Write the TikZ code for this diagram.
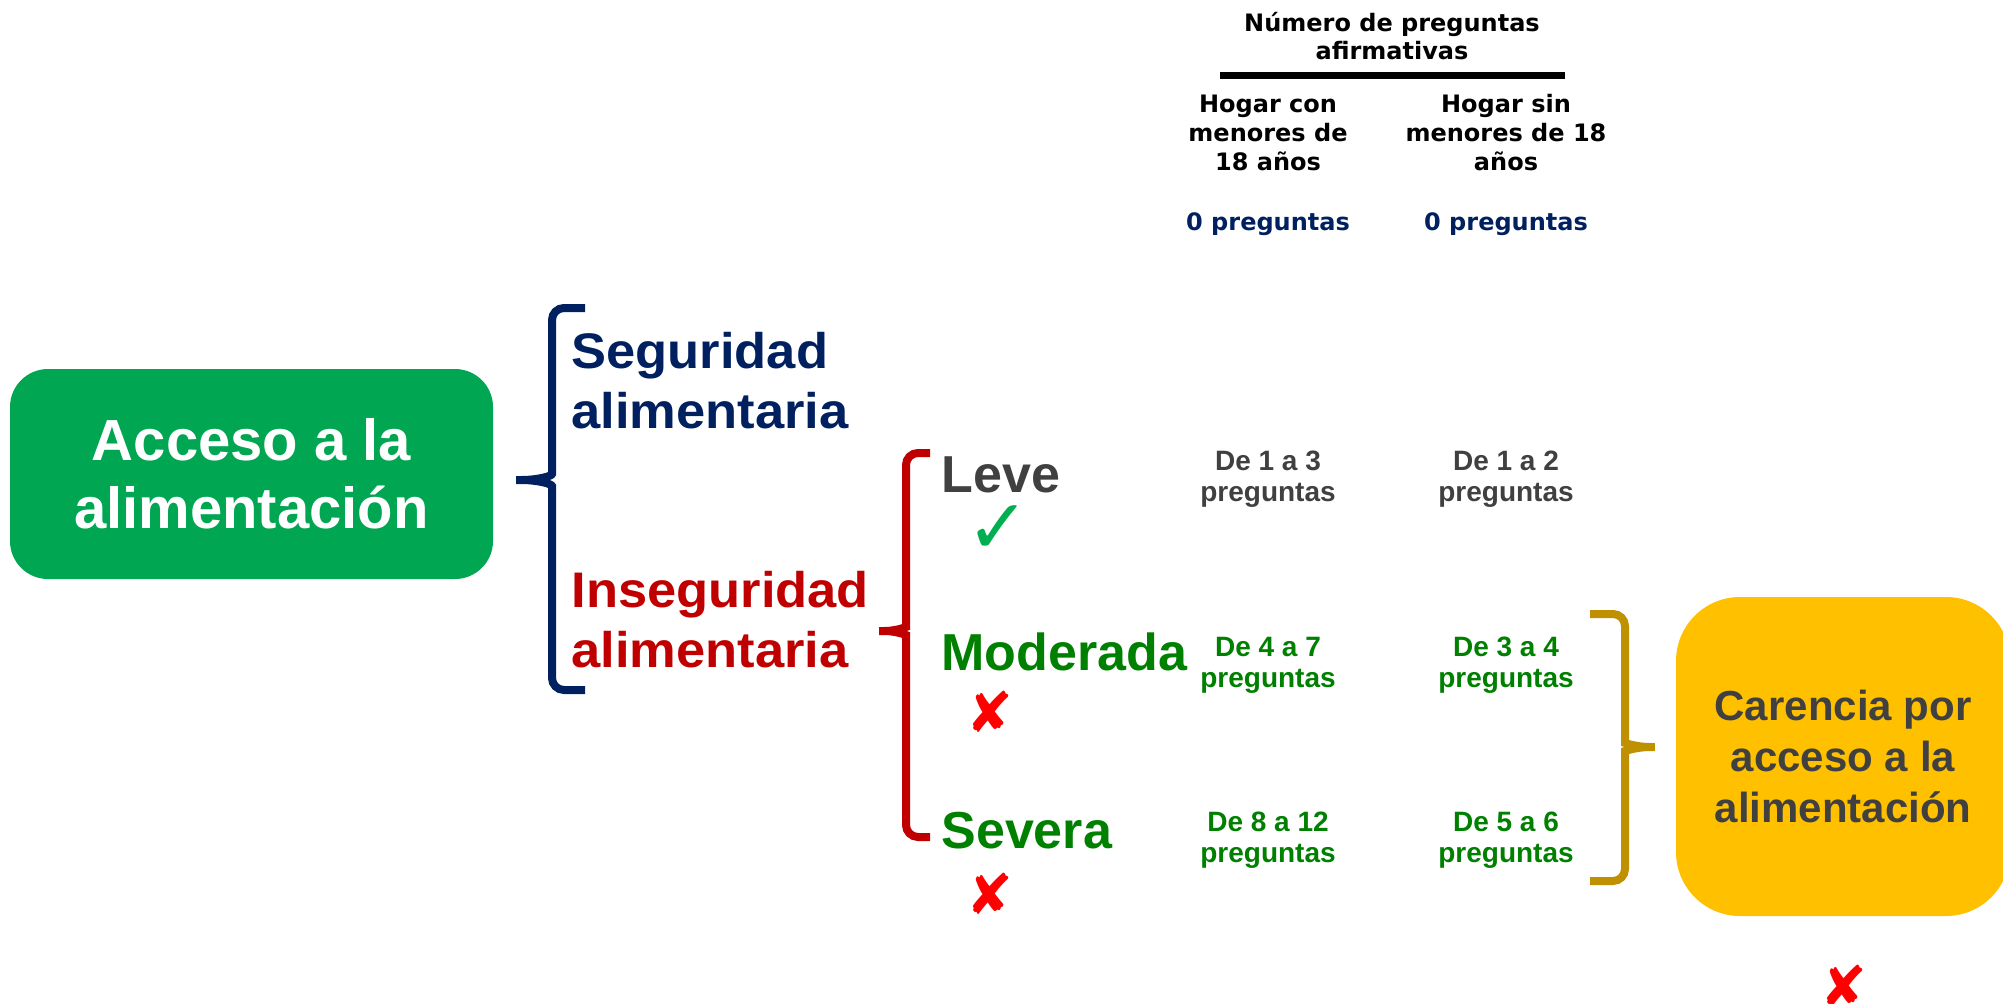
\documentclass[tikz,border=0pt]{standalone}
\usepackage{fontspec}
\setmainfont{Liberation Sans}
\newfontfamily\widefont[FakeStretch=1.05]{Liberation Sans}
\newfontfamily\hdrfont{DejaVu Sans}
\newfontfamily\symfont{DejaVu Sans}
\definecolor{navyblue}{HTML}{002060}
\definecolor{darkred}{HTML}{C00000}
\definecolor{txtgreen}{HTML}{008000}
\definecolor{txtgray}{HTML}{404040}
\definecolor{boxgreen}{HTML}{00A651}
\definecolor{chkgreen}{HTML}{00B050}
\definecolor{boxyellow}{HTML}{FFC000}
\definecolor{gold}{HTML}{BF9000}
\begin{document}
\begin{tikzpicture}[x=0.5pt, y=-0.5pt]
  \tikzstyle{mainbox} = [rounded corners=19pt, inner sep=0pt, align=center, font=\fontsize{29}{34}\selectfont\bfseries]
  \tikzstyle{level} = [anchor=base west, inner sep=0pt, align=left, font=\widefont\fontsize{25}{30}\selectfont\bfseries]
  \tikzstyle{grade} = [anchor=base west, inner sep=0pt, font=\fontsize{26}{30}\selectfont\bfseries]
  \tikzstyle{count} = [anchor=base, inner sep=0pt, align=center, font=\fontsize{14}{15.5}\selectfont\bfseries]
  \tikzstyle{head} = [anchor=base, inner sep=0pt, align=center, font=\hdrfont\fontsize{12}{14.5}\selectfont\bfseries]
  \tikzstyle{symmark} = [inner sep=0pt, font=\symfont\fontsize{28}{28}\selectfont]
  \tikzstyle{brace} = [line width=4pt, rounded corners=6pt]
  \useasboundingbox (0,0) rectangle (2003,1003);
  \clip (0,0) rectangle (2003,1003);
  % main boxes
  \node[mainbox, fill=boxgreen, text=white, minimum width=241.5pt, minimum height=105pt] (acceso) at (251.5, 474) {Acceso a la\\alimentación};
  \node[mainbox, rounded corners=32pt, fill=boxyellow, text=txtgray, minimum width=167pt, minimum height=159.5pt, font=\fontsize{21}{25.5}\selectfont\bfseries] (carencia) at (1843, 756.5) {Carencia por\\acceso a la\\alimentación};
  % first level (base = last line)
  \node[level, text=navyblue] (seg) at (571, 428) {Seguridad\\alimentaria};
  \node[level, text=darkred] (inseg) at (571, 667) {Inseguridad\\alimentaria};
  \node[grade, text=txtgray] (leve) at (941, 492) {Leve};
  \node[grade, text=txtgreen] (moder) at (941, 670) {Moderada};
  \node[grade, text=txtgreen] (sev) at (941, 848) {Severa};
  % marks
  \node[symmark, text=chkgreen, font=\symfont\fontsize{38}{38}\selectfont] (chkleve) at (998, 530) {✓};
  \node[symmark, text=red] (xmoder) at (990, 712) {✘};
  \node[symmark, text=red] (xsev) at (990, 894) {✘};
  \node[symmark, text=red] (xcar) at (1844, 986) {✘};
  % header
  \node[head, font=\hdrfont\fontsize{12}{14}\selectfont\bfseries] (hdr) at (1392, 59) {Número de preguntas\\afirmativas};
  \draw[line width=3.5pt] (1220, 75) -- (1565, 75);
  \node[head] (hcon) at (1268, 170) {Hogar con\\menores de\\18 años};
  \node[head] (hsin) at (1506, 170) {Hogar sin\\menores de 18\\años};
  \node[head, text=navyblue] (zcon) at (1268, 230) {0 preguntas};
  \node[head, text=navyblue] (zsin) at (1506, 230) {0 preguntas};
  % counts
  \node[count, text=txtgray] (lcon) at (1268, 501) {De 1 a 3\\preguntas};
  \node[count, text=txtgray] (lsin) at (1506, 501) {De 1 a 2\\preguntas};
  \node[count, text=txtgreen] (mcon) at (1268, 687) {De 4 a 7\\preguntas};
  \node[count, text=txtgreen] (msin) at (1506, 687) {De 3 a 4\\preguntas};
  \node[count, text=txtgreen] (scon) at (1268, 862) {De 8 a 12\\preguntas};
  \node[count, text=txtgreen] (ssin) at (1506, 862) {De 5 a 6\\preguntas};
  % braces
  \draw[brace, navyblue] (585, 308) -- (552, 308) -- (552, 462)
    .. controls (552, 476) and (538, 480) .. (509, 480)
    .. controls (538, 480) and (552, 484) .. (552, 498) -- (552, 690) -- (585, 690);
  \draw[brace, darkred] (930, 453) -- (906, 453) -- (906, 615)
    .. controls (906, 627) and (896, 631) .. (872, 631)
    .. controls (896, 631) and (906, 635) .. (906, 647) -- (906, 837) -- (930, 837);
  \draw[brace, gold] (1590, 614) -- (1625, 614) -- (1625, 731)
    .. controls (1625, 743) and (1637, 747) .. (1662, 747)
    .. controls (1637, 747) and (1625, 751) .. (1625, 763) -- (1625, 881) -- (1590, 881);
\end{tikzpicture}
\end{document}
